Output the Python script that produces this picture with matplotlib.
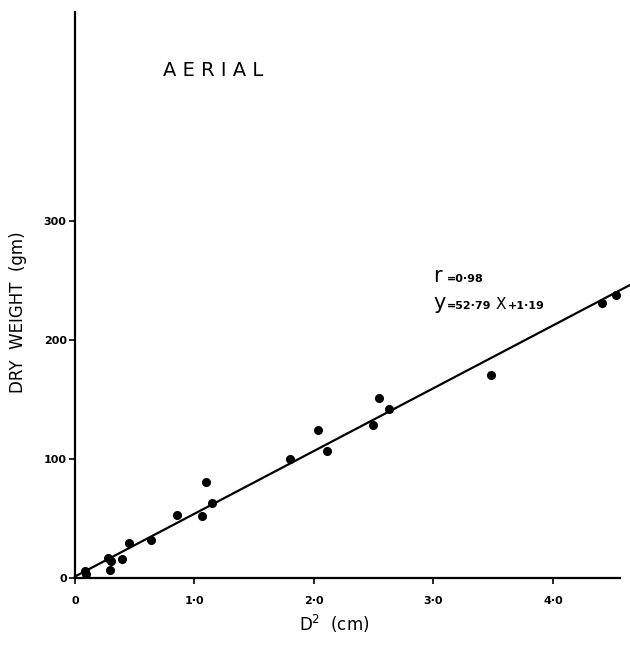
import numpy as np
import matplotlib.pyplot as plt

plt.rcParams.update({'font.family': 'DejaVu Sans'})

# D^2 (cm) and dry weight (gm)
d2 = np.array([0.08, 0.09, 0.28, 0.29, 0.30, 0.39, 0.45, 0.64, 0.85, 1.06, 1.10,
               1.15, 1.80, 2.03, 2.11, 2.49, 2.54, 2.63, 3.48, 4.41, 4.53])
weight = np.array([6, 3, 17, 7, 14, 16, 29, 32, 53, 52, 81,
                   63, 100, 124, 107, 129, 151, 142, 171, 231, 238])

# regression given on the chart
slope = 52.79
intercept = 1.19
r_value = "0·98"

xticks = [0, 1, 2, 3, 4]
xtick_labels = ["0", "1·0", "2·0", "3·0", "4·0"]
yticks = [0, 100, 200, 300]
ytick_labels = ["0", "100", "200", "300"]

fig = plt.figure(figsize=(6.3, 6.45), dpi=100)
ax = fig.add_axes([0.119, 0.104, 0.865, 0.8775])

ax.plot(d2, weight, "o", color="black", markersize=5.5, clip_on=False)
xl = np.array([0, 4.64])
ax.plot(xl, slope * xl + intercept, color="black", lw=1.6, clip_on=False)

ax.set_xlim(0, 4.56)
ax.set_ylim(0, 476)
for s in ["top", "right"]:
    ax.spines[s].set_visible(False)
for s in ["left", "bottom"]:
    ax.spines[s].set_linewidth(1.6)

ax.set_xticks(xticks)
ax.set_xticklabels(xtick_labels, fontsize=8, fontweight="bold")
ax.set_yticks(yticks)
ax.set_yticklabels(ytick_labels, fontsize=8, fontweight="bold")
ax.tick_params(axis="both", direction="out", length=4, width=1.2, pad=2)
ax.tick_params(axis="x", pad=9)

ax.set_ylabel("DRY  WEIGHT  (gm)", fontsize=12)
ax.yaxis.set_label_coords(-0.088, 0.47)
ax.set_xlabel("D$^{2}$  (cm)", fontsize=12)
ax.xaxis.set_label_coords(0.475, -0.062)

ax.text(0.74, 427, "A E R I A L", fontsize=14, va="center")

ax.text(3.0, 254, "r", fontsize=15, va="center")
ax.text(3.11, 251, "=" + r_value, fontsize=8, fontweight="bold", va="center")
ax.text(3.0, 231, "y", fontsize=15, va="center")
ax.text(3.11, 228.5, "=%s" % f"{slope:.2f}".replace(".", "·"), fontsize=8,
        fontweight="bold", va="center")
ax.text(3.52, 230, "X", fontsize=11, va="center")
ax.text(3.62, 228.5, "+%s" % f"{intercept:.2f}".replace(".", "·"), fontsize=8,
        fontweight="bold", va="center")

fig.savefig("out.png", dpi=100)
